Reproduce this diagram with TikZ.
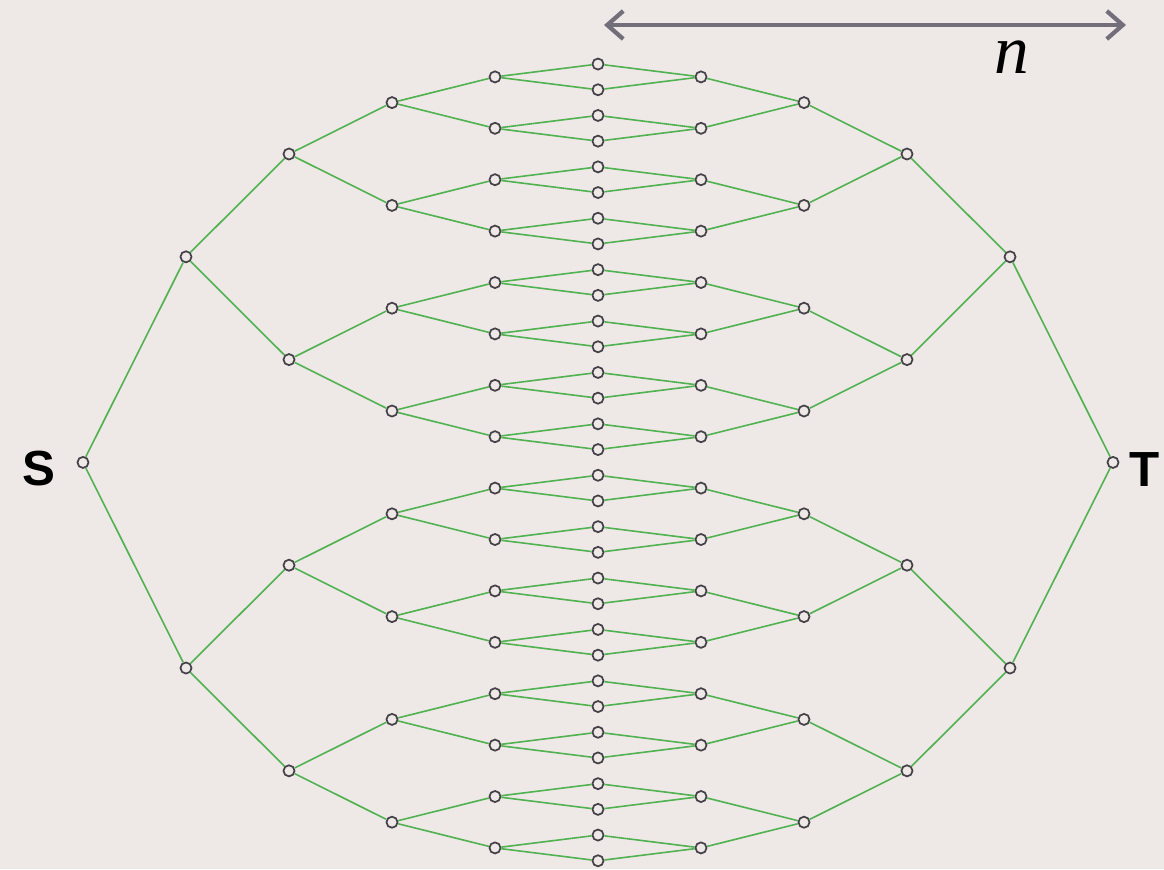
\documentclass[tikz,border=0pt]{standalone}
\usepackage{fontspec}
\setmainfont{Liberation Serif}
\setsansfont{Liberation Sans}
\usetikzlibrary{arrows.meta}
\definecolor{bgcol}{RGB}{238,232,230}
\definecolor{edgegreen}{RGB}{80,178,80}
\definecolor{nodegray}{RGB}{68,66,72}
\definecolor{arrowgray}{RGB}{115,111,122}

\begin{document}
\begin{tikzpicture}[x=0.75pt, y=-0.75pt,
    vert/.style={circle, draw=nodegray, fill=bgcol, line width=1.3pt, inner sep=0pt, minimum size=8.3pt},
    edge/.style={draw=edgegreen, line width=1.2pt},
    endlabel/.style={font=\sffamily\bfseries\fontsize{37}{40}\selectfont, inner sep=0pt}]
    \fill[bgcol] (0,0) rectangle (1164,869);

    % both halves of the tree, levels 0..4
    \foreach \d in {0,...,4} {
        \pgfmathtruncatemacro{\cnt}{2^\d-1}
        \foreach \i in {0,...,\cnt} {
            \pgfmathsetmacro{\yy}{51.2+822.4/2^\d*(\i+0.5)}
            \node[vert] (L\d-\i) at ({83+103*\d}, \yy) {};
            \node[vert] (R\d-\i) at ({1113-103*\d}, \yy) {};
        }
    }
    % middle column
    \foreach \i in {0,...,31}
        \node[vert] (M-\i) at (598, {64.05+25.7*\i}) {};

    \foreach \d in {1,...,4} {
        \pgfmathtruncatemacro{\cnt}{2^\d-1}
        \pgfmathtruncatemacro{\e}{\d-1}
        \foreach \i in {0,...,\cnt} {
            \pgfmathtruncatemacro{\p}{floor(\i/2)}
            \draw[edge] (L\e-\p) -- (L\d-\i);
            \draw[edge] (R\e-\p) -- (R\d-\i);
        }
    }
    \foreach \i in {0,...,31} {
        \pgfmathtruncatemacro{\p}{floor(\i/2)}
        \draw[edge] (L4-\p) -- (M-\i) -- (R4-\p);
    }

    \node[endlabel] (slab) at (39,469) {S};
    \node[endlabel] (tlab) at (1145,470) {T};

    \coordinate (nleft) at (604,25);
    \coordinate (nright) at (1126,25);
    \draw[arrowgray, line width=3.2pt, {Straight Barb[length=12pt,width=21pt]}-{Straight Barb[length=12pt,width=21pt]}] (nleft) -- (nright);
    \node[font=\itshape\fontsize{52}{54}\selectfont] (nlab) at (1012,57) {n};
\end{tikzpicture}
\end{document}
